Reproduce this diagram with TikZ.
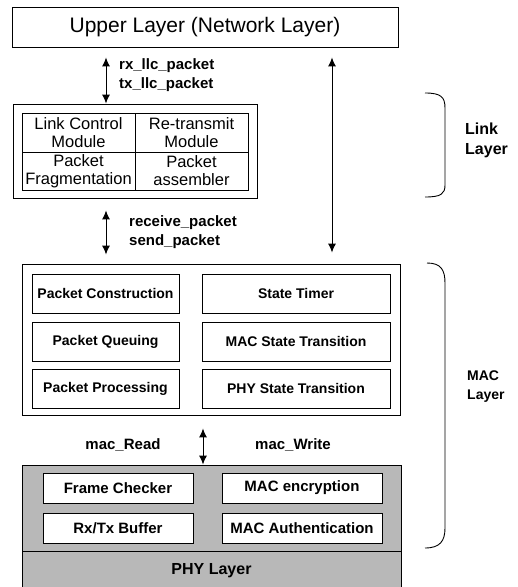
\documentclass[tikz,border=0pt]{standalone}
\usepackage{fontspec}
\setmainfont{Liberation Sans}
\usetikzlibrary{arrows.meta}
\begin{document}
\begin{tikzpicture}[x=1pt,y=-1pt,
  box/.style={draw, line width=0.9pt, inner sep=0pt, align=center},
  cell/.style={box, font=\fontsize{16.5}{18}\selectfont},
  macbox/.style={box, fill=white, minimum height=39pt, font=\bfseries\fontsize{14}{16}\selectfont},
  phybox/.style={box, fill=white, minimum height=30pt, font=\bfseries\fontsize{15}{17}\selectfont},
  lbl/.style={inner sep=0pt, align=left, font=\bfseries\fontsize{15}{19}\selectfont},
  bi/.style={line width=1pt, {Latex[length=9pt,width=8pt]}-{Latex[length=9pt,width=8pt]}},
  brace/.style={line width=0.9pt},
  shade/.style={fill=black!28}
]
\useasboundingbox (0,0) rectangle (518,587);

% Upper layer
\node[box, minimum width=386pt, minimum height=40pt, font=\fontsize{21}{23}\selectfont] (upper) at (205,27) {Upper Layer (Network Layer)};

% Link layer
\node[box, minimum width=244pt, minimum height=94pt] (link) at (135,151) {};
\node[cell, minimum width=113pt, minimum height=39pt] (c11) at (78.5,132.5) {Link Control\\Module};
\node[cell, minimum width=113pt, minimum height=39pt] (c12) at (191.5,132.5) {Re-transmit\\Module};
\node[cell, minimum width=113pt, minimum height=38pt] (c21) at (78.5,171) {Packet\\Fragmentation};
\node[cell, minimum width=113pt, minimum height=38pt] (c22) at (191.5,171) {Packet\\assembler};

% MAC layer
\node[box, minimum width=378pt, minimum height=151pt] (mac) at (211,339.5) {};
\node[macbox, minimum width=147pt] (pc) at (105.5,293.5) {Packet Construction};
\node[macbox, minimum width=188pt] (st) at (296,293.5) {State Timer};
\node[macbox, minimum width=147pt] (pq) at (105.5,341.5) {Packet Queuing};
\node[macbox, minimum width=188pt] (ms) at (296,341.5) {MAC State Transition};
\node[macbox, minimum width=147pt] (pp) at (105.5,388.5) {Packet Processing};
\node[macbox, minimum width=188pt] (ps) at (296,388.5) {PHY State Transition};

% PHY area
\node[box, shade, minimum width=379pt, minimum height=86pt] (phyup) at (211.5,508) {};
\node[box, shade, minimum width=379pt, minimum height=40pt, font=\bfseries\fontsize{16}{18}\selectfont] (phy) at (211.5,571) {PHY Layer};
\node[phybox, minimum width=150pt] (fc) at (118,488) {Frame Checker};
\node[phybox, minimum width=160pt] (me) at (302,488) {MAC encryption};
\node[phybox, minimum width=150pt] (rx) at (118,528) {Rx/Tx Buffer};
\node[phybox, minimum width=160pt] (ma) at (302,528) {MAC Authentication};

% Arrow columns
\coordinate (xa) at (106,0);
\coordinate (xb) at (332,0);
\coordinate (xc) at (203,0);

\draw[bi, shorten <=10pt] (upper.south -| xa) -- (link.north -| xa);
\draw[bi, shorten <=10pt, shorten >=11pt] (upper.south -| xb) -- (mac.north -| xb);
\draw[bi, shorten <=12pt, shorten >=9pt] (link.south -| xa) -- (mac.north -| xa);
\draw[bi, shorten <=13pt] (mac.south -| xc) -- (phyup.north -| xc);

% Arrow labels
\node[lbl, anchor=west] (l1) at (119,75.5) {rx\_llc\_packet\\tx\_llc\_packet};
\node[lbl, anchor=west] (l2) at (129,232) {receive\_packet\\send\_packet};
\node[lbl] (l3) at (123,445) {mac\_Read};
\node[lbl] (l4) at (293,445) {mac\_Write};

% Braces
\draw[brace] (425,93) .. controls (441,93) and (445,97) .. (445,108) -- (445,185) .. controls (445,194) and (441,197) .. (425,197);
\draw[brace] (427,263) .. controls (441,263) and (445,270) .. (445,283) -- (445,528) .. controls (445,541) and (440,548) .. (425,548);

\node[inner sep=0pt, anchor=west, align=left, font=\bfseries\fontsize{16}{20}\selectfont] (ll) at (465,140) {Link\\Layer};
\node[inner sep=0pt, anchor=west, align=left, font=\bfseries\fontsize{14}{19}\selectfont] (ml) at (467,387) {MAC\\Layer};
\end{tikzpicture}
\end{document}
